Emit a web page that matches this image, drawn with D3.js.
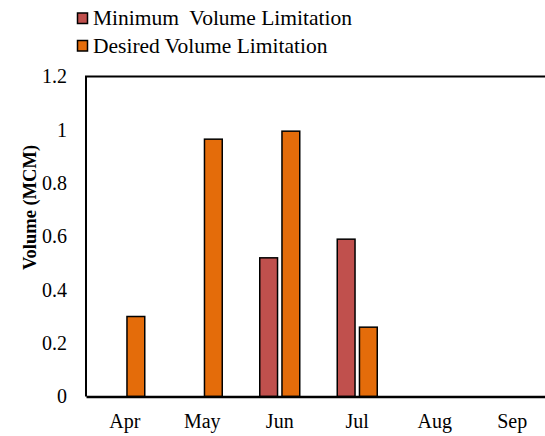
<!DOCTYPE html>
<html>
<head>
<meta charset="utf-8">
<script src="https://cdn.jsdelivr.net/npm/d3@7"></script>
<style>
  html, body { margin: 0; padding: 0; background: #fff; }
  svg { display: block; }
</style>
</head>
<body>
<svg id="chart" width="545" height="436"></svg>
<script>
// Monthly volume limitations (MCM)
const months = ["Apr", "May", "Jun", "Jul", "Aug", "Sep"];
const minimumVolume = [0, 0, 0.52, 0.59, 0, 0];
const desiredVolume = [0.30, 0.965, 0.995, 0.26, 0, 0];
const seriesNames = ["Minimum  Volume Limitation", "Desired Volume Limitation"];
const seriesColors = ["#C0504D", "#E46C0A"];
const yTicks = [0, 0.2, 0.4, 0.6, 0.8, 1, 1.2];

const FONT = "'Liberation Serif', 'Times New Roman', serif";
const svg = d3.select("#chart");
const margin = { left: 86, top: 76.5, right: -6, bottom: 39.5 };
const width = 545 - margin.left - margin.right;
const height = 436 - margin.top - margin.bottom;

const g = svg.append("g").attr("transform", `translate(${margin.left},${margin.top})`);

const x = d3.scaleBand().domain(months).range([0, width]).paddingInner(0).paddingOuter(0);
const sub = d3.scaleBand().domain([0, 1])
  .range([x.bandwidth() / 2 - 20, x.bandwidth() / 2 + 20]).paddingInner(0.2).paddingOuter(0);
const y = d3.scaleLinear().domain([0, 1.2]).range([height, 0]);

// plot frame (top and left edges)
g.append("path")
  .attr("d", `M0,${height}V0H${width}`)
  .attr("fill", "none").attr("stroke", "#000").attr("stroke-width", 2);

// bars
const series = [minimumVolume, desiredVolume];
series.forEach((vals, si) => {
  g.append("g").selectAll("rect")
    .data(months.map((m, i) => ({ m, v: vals[i] })).filter(d => d.v > 0))
    .join("rect")
    .attr("x", d => x(d.m) + sub(si))
    .attr("width", sub.bandwidth())
    .attr("y", d => y(d.v))
    .attr("height", d => height - y(d.v))
    .attr("fill", seriesColors[si])
    .attr("stroke", "#000")
    .attr("stroke-width", 1.5);
});

// x axis
const xAxis = g.append("g").attr("transform", `translate(0,${height})`)
  .call(d3.axisBottom(x).tickSize(0).tickPadding(17));
xAxis.attr("font-family", FONT).attr("font-size", 20);
xAxis.select(".domain").attr("stroke", "#000").attr("stroke-width", 2.5);
xAxis.selectAll("text").style("font-family", FONT).style("font-size", "20px").attr("fill", "#000");

// y axis
const yAxis = g.append("g")
  .call(d3.axisLeft(y).tickValues(yTicks).tickSize(0).tickPadding(19).tickFormat(d3.format("")));
yAxis.attr("font-family", FONT).attr("font-size", 20);
yAxis.select(".domain").remove();
yAxis.selectAll("text").style("font-family", FONT).style("font-size", "20px").attr("fill", "#000");

// y axis title
svg.append("text")
  .attr("transform", `translate(35.5,207.5) rotate(-90)`)
  .attr("text-anchor", "middle")
  .style("font-family", FONT)
  .style("font-size", "18.5px")
  .style("font-weight", "bold")
  .attr("fill", "#000")
  .text("Volume (MCM)");

// legend
const legend = svg.append("g").attr("transform", "translate(77,13)");
seriesNames.forEach((name, i) => {
  const row = legend.append("g").attr("transform", `translate(0,${i * 27.5})`);
  row.append("rect").attr("x", 0.5).attr("y", 0).attr("width", 10).attr("height", 10.5)
    .attr("fill", seriesColors[i]).attr("stroke", "#000").attr("stroke-width", 1.5);
  row.append("text").attr("x", 16).attr("y", 12)
    .style("font-family", FONT).style("font-size", "21.5px").style("white-space", "pre")
    .attr("fill", "#000")
    .text(name);
});
</script>
</body>
</html>
